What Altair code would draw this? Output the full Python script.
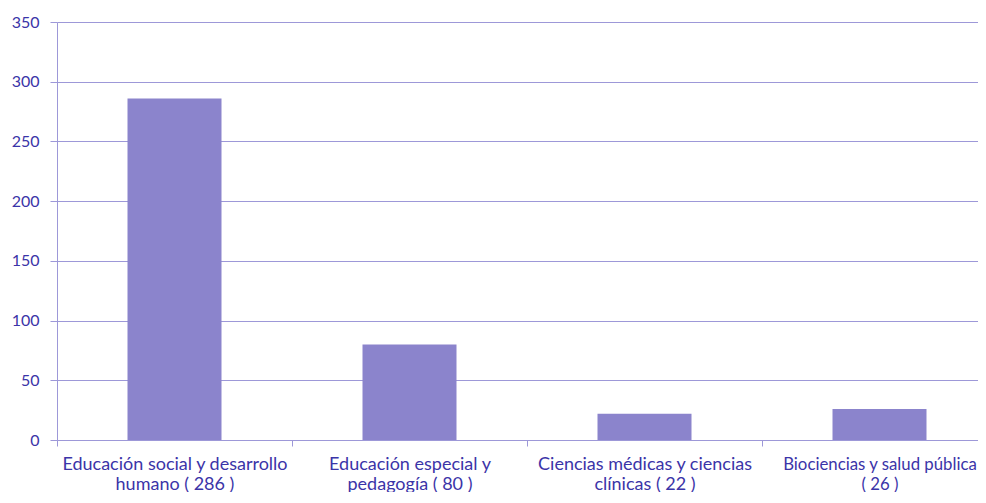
import altair as alt
import pandas as pd
import json

categories = [
    "Educación social y desarrollo|humano ( 286 )",
    "Educación especial y|pedagogía ( 80 )",
    "Ciencias médicas y ciencias|clínicas ( 22 )",
    "Biociencias y salud pública|( 26 )",
]
values = [286, 80, 22, 26]

df = pd.DataFrame({"cat": categories, "val": values, "idx": list(range(len(categories)))})

line_col = "#9D98D8"
text_col = "#3B34A8"
font = "Lato"

plot_w = 921
band_px = 235
label_arr = json.dumps(categories, ensure_ascii=False)
x_vals = [v / 2 for v in range(0, 2 * len(categories))]
label_expr = (
    f"(datum.value % 1) > 0.25 ? split({label_arr}[floor(datum.value)], '|') : ''"
)

chart = alt.Chart(df).transform_calculate(
    center="datum.idx + 0.5"
).mark_bar(color="#8B84CC", width=94).encode(
    x=alt.X(
        "center:Q",
        title=None,
        scale=alt.Scale(domain=[0, plot_w / band_px], nice=False, zero=False, padding=0),
        axis=alt.Axis(
            values=x_vals,
            labelAngle=0,
            labelExpr=label_expr,
            labelFont=font,
            labelFontSize={"condition": {"test": "datum.value > 3", "value": 16.8}, "value": 18},
            labelColor=text_col,
            labelPadding=18,
            labelLineHeight=20,
            labelLimit=400,
            labelBaseline="middle",
            labelOverlap=False,
            tickColor={"condition": {"test": "(datum.value % 1) < 0.25", "value": line_col}, "value": "transparent"},
            tickSize=6,
            domainColor=line_col,
            grid=False,
        ),
    ),
    y=alt.Y(
        "val:Q",
        title=None,
        scale=alt.Scale(domain=[0, 350], nice=False),
        axis=alt.Axis(
            values=[0, 50, 100, 150, 200, 250, 300, 350],
            labelFont=font,
            labelFontSize=16,
            labelColor=text_col,
            labelPadding=11,
            tickColor=line_col,
            tickSize=7,
            domainColor=line_col,
            gridColor=line_col,
            gridOpacity=1,
        ),
    ),
).properties(
    width=plot_w,
    height=418,
    autosize=alt.AutoSizeParams(type="none"),
    padding={"left": 49, "top": 14, "right": 0, "bottom": 52},
).configure_view(stroke=None).configure_axis(labelFlush=False)

chart.save("out.html", embed_options={"renderer": "svg", "actions": False})
